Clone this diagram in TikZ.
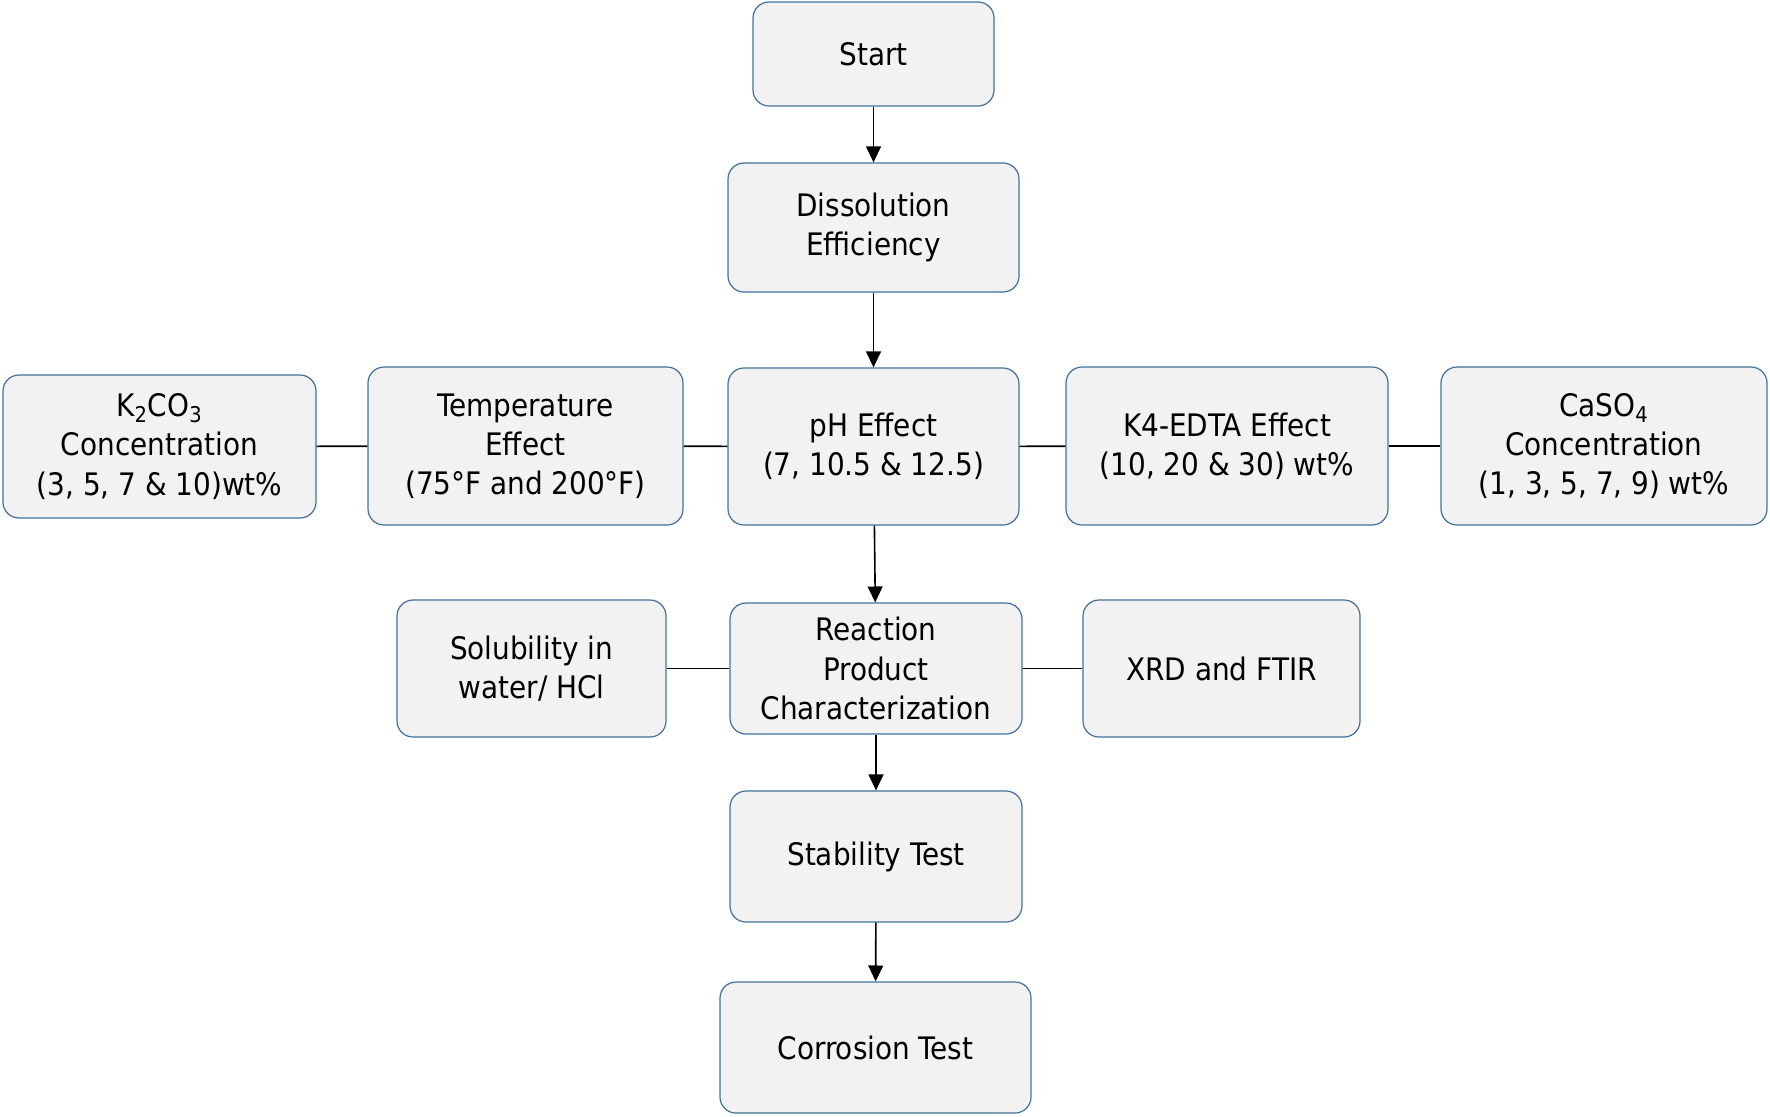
\documentclass[tikz,border=0pt]{standalone}
\usepackage{fontspec}
\setmainfont{DejaVu Sans Condensed}
\usetikzlibrary{arrows.meta,positioning}
\definecolor{boxfill}{HTML}{F2F2F2}
\definecolor{boxline}{HTML}{41719C}
\tikzset{
  >={Triangle[length=2.8mm,width=2.6mm]},
  stepbox/.style={draw=boxline,fill=boxfill,rounded corners=8pt,
    line width=0.6pt,align=center,inner sep=2pt,
    font=\fontsize{15.5}{19.6}\selectfont},
  flow/.style={->,line width=0.8pt},
  link/.style={line width=0.8pt},
}

\begin{document}
\begin{tikzpicture}[x=0.5pt,y=-0.5pt]
  \useasboundingbox (0,0) rectangle (1770,1116);
  % main column
  \node[stepbox,minimum width=120.5pt,minimum height=52pt] (start) at (873.5,54) {Start};
  \node[stepbox,minimum width=145.5pt,minimum height=64.5pt] (diss) at (873.5,227.5) {Dissolution\\Efficiency};
  \node[stepbox,minimum width=145.5pt,minimum height=78.5pt] (ph) at (873.5,446.5) {pH Effect\\(7, 10.5 \& 12.5)};
  \node[stepbox,minimum width=146pt,minimum height=65.5pt] (react) at (876,668.5) {Reaction\\Product\\Characterization};
  \node[stepbox,minimum width=146pt,minimum height=65.5pt] (stab) at (876,856.5) {Stability Test};
  \node[stepbox,minimum width=155.5pt,minimum height=65.5pt] (corr) at (875.5,1047.5) {Corrosion Test};
  % side boxes
  \node[stepbox,minimum width=157.5pt,minimum height=79pt] (temp) at (525.5,446) {Temperature\\Effect\\(75°F and 200°F)};
  \node[stepbox,minimum width=156.5pt,minimum height=71.5pt] (kco) at (159.5,446.5) {K\textsubscript{2}CO\textsubscript{3}\\Concentration\\(3, 5, 7 \& 10)wt\%};
  \node[stepbox,minimum width=161pt,minimum height=79pt] (edta) at (1227,446) {K4-EDTA Effect\\(10, 20 \& 30) wt\%};
  \node[stepbox,minimum width=163pt,minimum height=79pt] (caso) at (1604,446) {CaSO\textsubscript{4}\\Concentration\\(1, 3, 5, 7, 9) wt\%};
  \node[stepbox,minimum width=134.5pt,minimum height=68.5pt] (solu) at (531.5,668.5) {Solubility in\\water/ HCl};
  \node[stepbox,minimum width=138.5pt,minimum height=68.5pt] (xrd) at (1221.5,668.5) {XRD and FTIR};

  \draw[flow] (start) -- (diss);
  \draw[flow] (diss) -- (ph);
  \draw[flow] (ph) -- (react);
  \draw[flow] (react) -- (stab);
  \draw[flow] (stab) -- (corr);

  \draw[link] (kco) -- (temp);
  \draw[link] (temp) -- (ph);
  \draw[link] (ph) -- (edta);
  \draw[link] (edta) -- (caso);
  \draw[link] (solu) -- (react);
  \draw[link] (react) -- (xrd);
\end{tikzpicture}
\end{document}
